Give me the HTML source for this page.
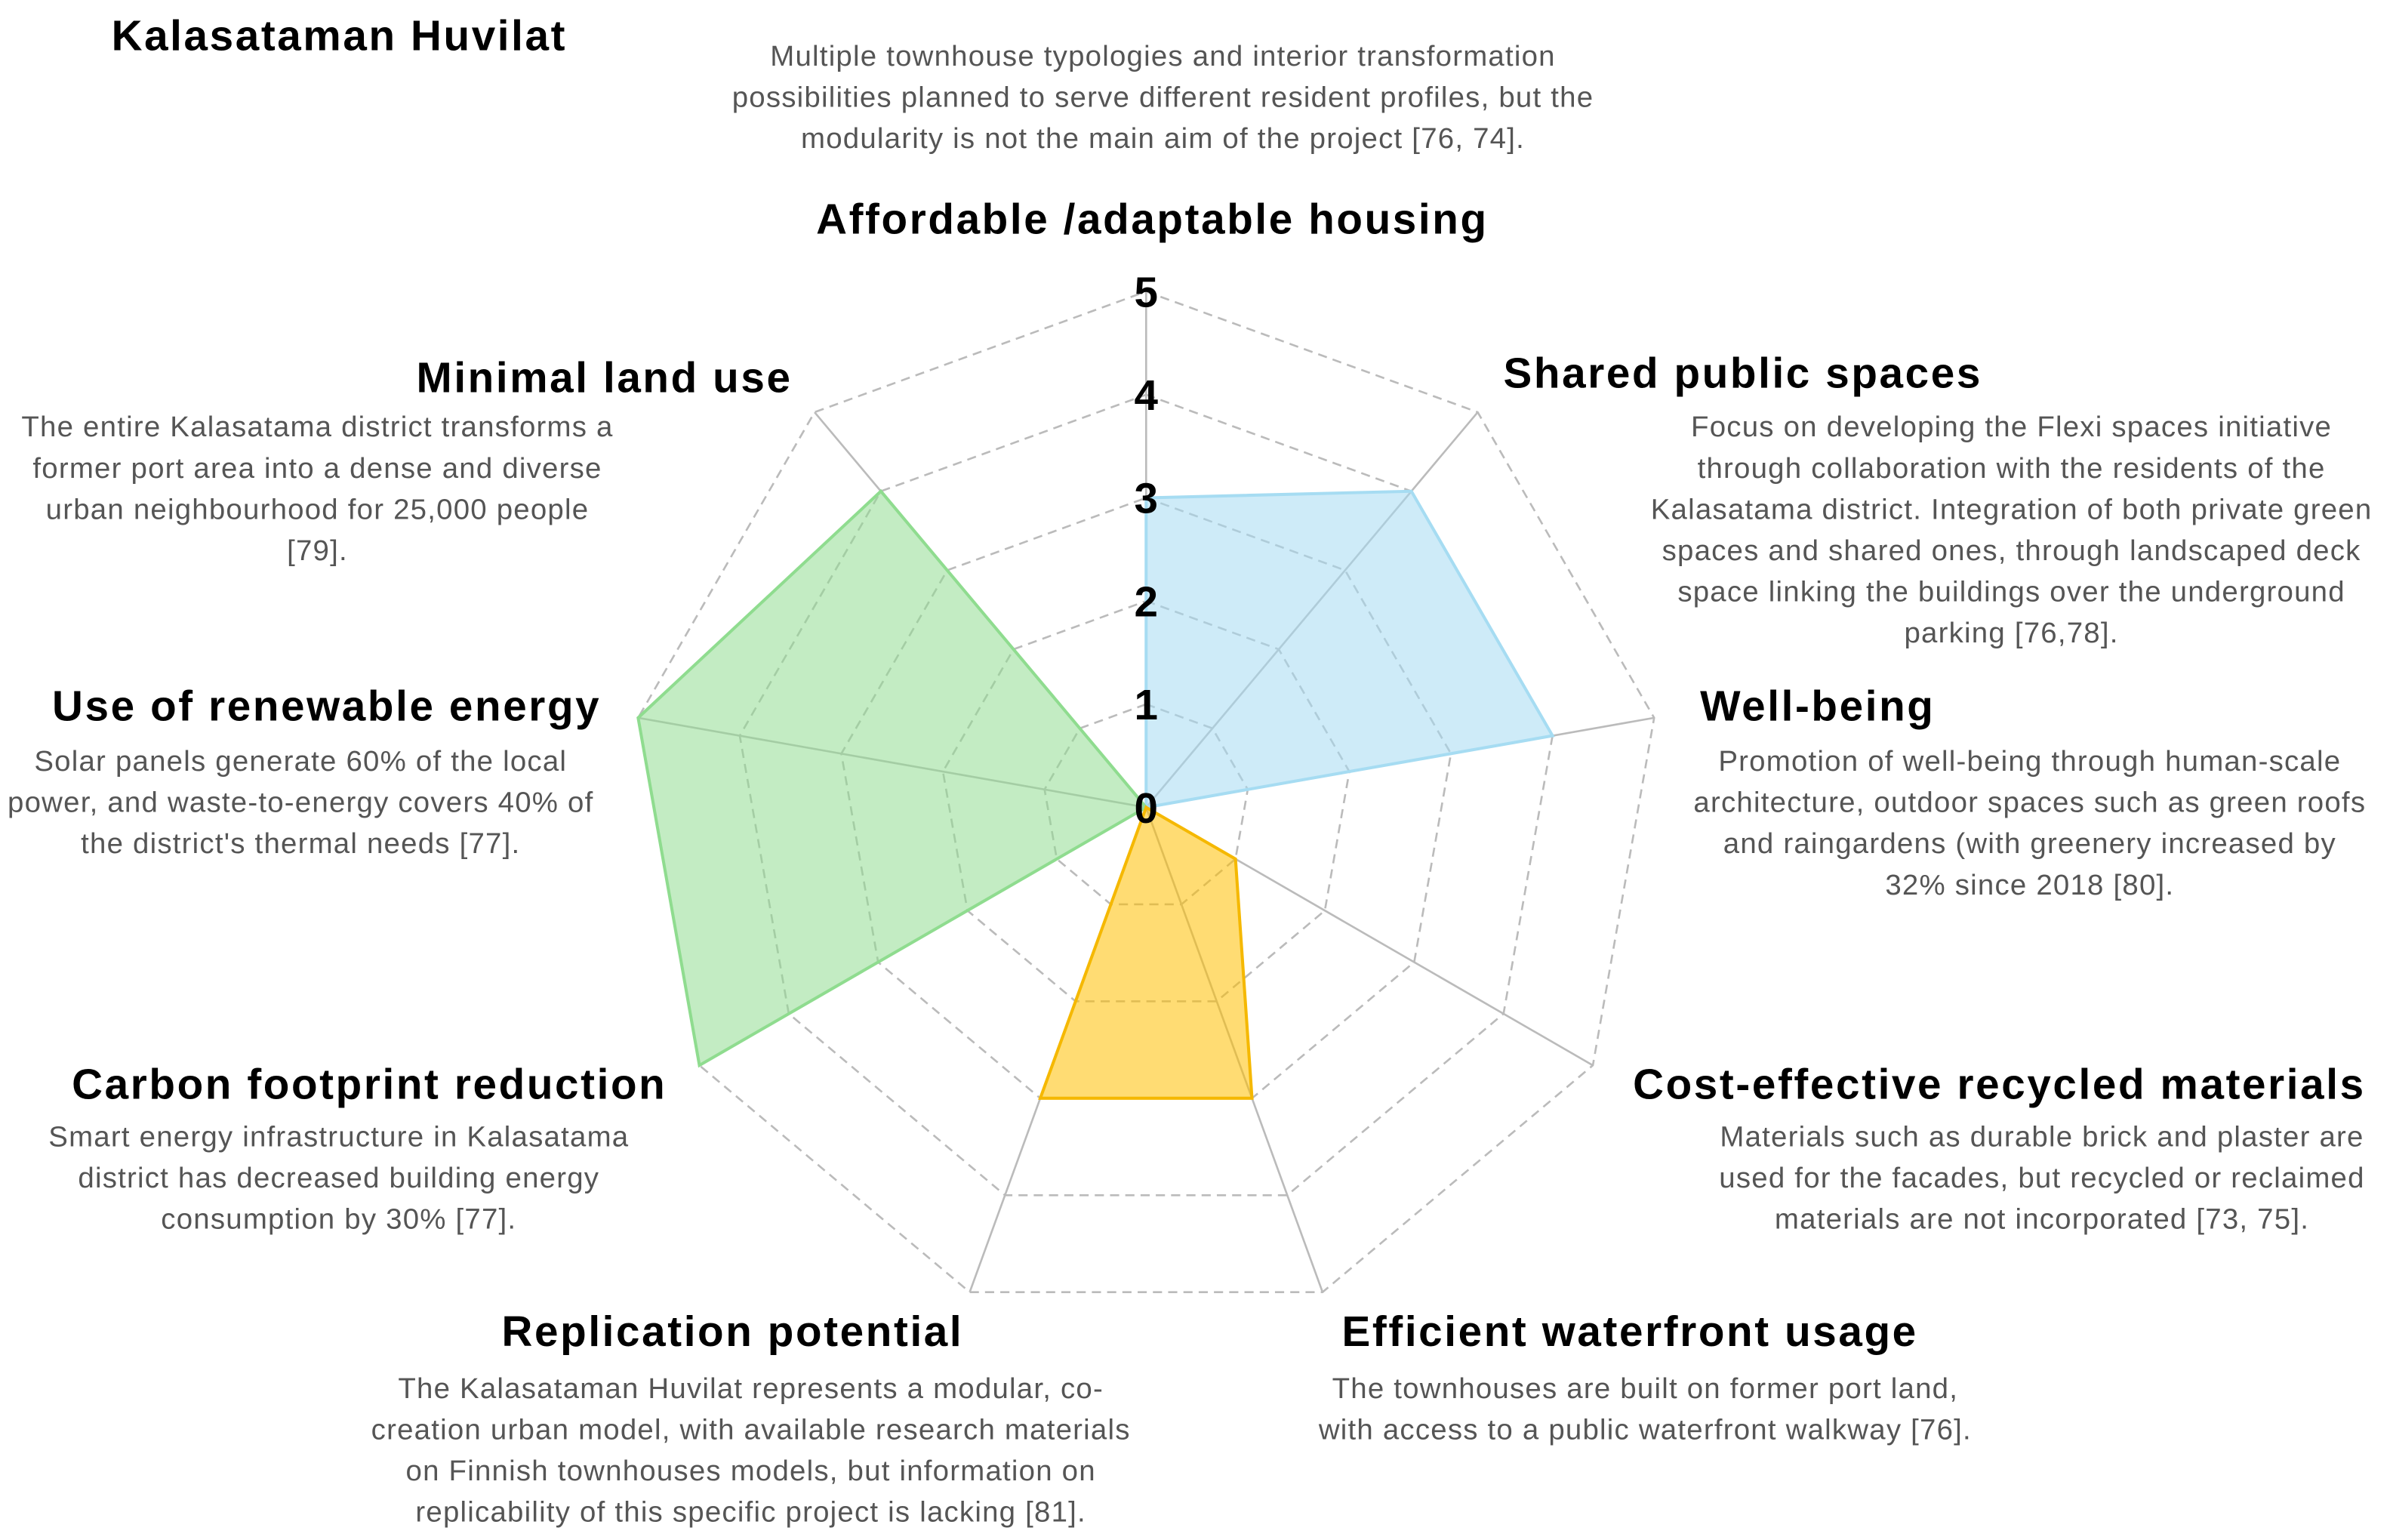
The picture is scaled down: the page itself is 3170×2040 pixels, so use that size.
<!DOCTYPE html>
<html><head><meta charset="utf-8"><style>
html,body{margin:0;padding:0;background:#fff;}
svg{display:block;}
.t{font-family:"Liberation Sans",sans-serif;font-weight:bold;fill:#000;font-size:28px;letter-spacing:1.3px;text-anchor:middle;}
.d{font-family:"Liberation Sans",sans-serif;fill:#555;font-size:19px;letter-spacing:0.6px;text-anchor:middle;}
.k{font-family:"Liberation Sans",sans-serif;font-weight:bold;fill:#000;font-size:28px;text-anchor:middle;}
</style></head><body>
<svg id="chart" width="3170" height="2040" viewBox="0 0 1568 1009" preserveAspectRatio="none" xmlns="http://www.w3.org/2000/svg">
<text x="73" y="33" class="t" style="text-anchor:start">Kalasataman Huvilat</text>
<g id="grid"></g>
<g id="series"></g>
<g id="ticks"></g>
<g>
<text class="d"><tspan x="762" y="43">Multiple townhouse typologies and interior transformation</tspan><tspan x="762" y="70">possibilities planned to serve different resident profiles, but the</tspan><tspan x="762" y="97">modularity is not the main aim of the project [76, 74].</tspan></text>
<text x="755" y="153" class="t">Affordable /adaptable housing</text>
<text x="396" y="257" class="t">Minimal land use</text>
<text class="d"><tspan x="208" y="286">The entire Kalasatama district transforms a</tspan><tspan x="208" y="313">former port area into a dense and diverse</tspan><tspan x="208" y="340">urban neighbourhood for 25,000 people</tspan><tspan x="208" y="367">[79].</tspan></text>
<text x="1142" y="254" class="t">Shared public spaces</text>
<text class="d"><tspan x="1318" y="286">Focus on developing the Flexi spaces initiative</tspan><tspan x="1318" y="313">through collaboration with the residents of the</tspan><tspan x="1318" y="340">Kalasatama district. Integration of both private green</tspan><tspan x="1318" y="367">spaces and shared ones, through landscaped deck</tspan><tspan x="1318" y="394">space linking the buildings over the underground</tspan><tspan x="1318" y="421">parking [76,78].</tspan></text>
<text x="214" y="472" class="t">Use of renewable energy</text>
<text class="d"><tspan x="197" y="505">Solar panels generate 60% of the local</tspan><tspan x="197" y="532">power, and waste-to-energy covers 40% of</tspan><tspan x="197" y="559">the district's thermal needs [77].</tspan></text>
<text x="1191" y="472" class="t">Well-being</text>
<text class="d"><tspan x="1330" y="505">Promotion of well-being through human-scale</tspan><tspan x="1330" y="532">architecture, outdoor spaces such as green roofs</tspan><tspan x="1330" y="559">and raingardens (with greenery increased by</tspan><tspan x="1330" y="586">32% since 2018 [80].</tspan></text>
<text x="242" y="720" class="t">Carbon footprint reduction</text>
<text class="d"><tspan x="222" y="751">Smart energy infrastructure in Kalasatama</tspan><tspan x="222" y="778">district has decreased building energy</tspan><tspan x="222" y="805">consumption by 30% [77].</tspan></text>
<text x="1310" y="720" class="t">Cost-effective recycled materials</text>
<text class="d"><tspan x="1338" y="751">Materials such as durable brick and plaster are</tspan><tspan x="1338" y="778">used for the facades, but recycled or reclaimed</tspan><tspan x="1338" y="805">materials are not incorporated [73, 75].</tspan></text>
<text x="480" y="882" class="t">Replication potential</text>
<text class="d"><tspan x="492" y="916">The Kalasataman Huvilat represents a modular, co-</tspan><tspan x="492" y="943">creation urban model, with available research materials</tspan><tspan x="492" y="970">on Finnish townhouses models, but information on</tspan><tspan x="492" y="997">replicability of this specific project is lacking [81].</tspan></text>
<text x="1068" y="882" class="t">Efficient waterfront usage</text>
<text class="d"><tspan x="1078" y="916">The townhouses are built on former port land,</tspan><tspan x="1078" y="943">with access to a public waterfront walkway [76].</tspan></text>
</g>
</svg>
<script>
const categories = ["Affordable /adaptable housing","Shared public spaces","Well-being","Cost-effective recycled materials","Efficient waterfront usage","Replication potential","Carbon footprint reduction","Use of renewable energy","Minimal land use"];
const blueValues = [3,4,4,0,0,0,0,0,0];
const yellowValues = [0,0,0,1,3,3,0,0,0];
const greenValues = [0,0,0,0,0,0,5,5,4];
const tickLabels = [0,1,2,3,4,5];
const maxValue = 5;

const NS = "http://www.w3.org/2000/svg";
const cx = 751, cy = 529, R = 338;
function pt(i, v){ const a = i*2*Math.PI/categories.length; const r = v/maxValue*R; return [cx + r*Math.sin(a), cy - r*Math.cos(a)]; }
const grid = document.getElementById('grid');
tickLabels.slice(1).forEach(t=>{
  const p = document.createElementNS(NS,'polygon');
  p.setAttribute('points', categories.map((c,i)=>pt(i,t).join(',')).join(' '));
  p.setAttribute('fill','none'); p.setAttribute('stroke','#bbb'); p.setAttribute('stroke-width','1.3'); p.setAttribute('stroke-dasharray','6,4');
  
  
  grid.appendChild(p);
});
categories.forEach((c,i)=>{
  const e = pt(i,maxValue);
  const l = document.createElementNS(NS,'line');
  l.setAttribute('x1',cx); l.setAttribute('y1',cy); l.setAttribute('x2',e[0]); l.setAttribute('y2',e[1]);
  l.setAttribute('stroke','#bbb'); l.setAttribute('stroke-width','1.3');
  
  
  grid.appendChild(l);
});
const series = document.getElementById('series');
function drawSeries(vals, fill, stroke, name){
  const p = document.createElementNS(NS,'polygon');
  p.setAttribute('points', vals.map((v,i)=>pt(i,v).join(',')).join(' '));
  p.setAttribute('fill', fill); p.setAttribute('fill-opacity','0.55'); p.setAttribute('stroke', stroke); p.setAttribute('stroke-width','2');
  
  
  series.appendChild(p);
}
drawSeries(blueValues,'#a6dbf3','#a6dcf2','series-blue');
drawSeries(greenValues,'#92dd92','#8fdc8f','series-green');
drawSeries(yellowValues,'#ffc000','#f5b800','series-yellow');
const ticks = document.getElementById('ticks');
tickLabels.forEach(t=>{
  const p = pt(0,t);
  const tx = document.createElementNS(NS,'text');
  tx.setAttribute('x',p[0]); tx.setAttribute('y',p[1]+10); tx.setAttribute('class','k');
  tx.textContent = t;
  
  
  ticks.appendChild(tx);
});
</script>
</body></html>
